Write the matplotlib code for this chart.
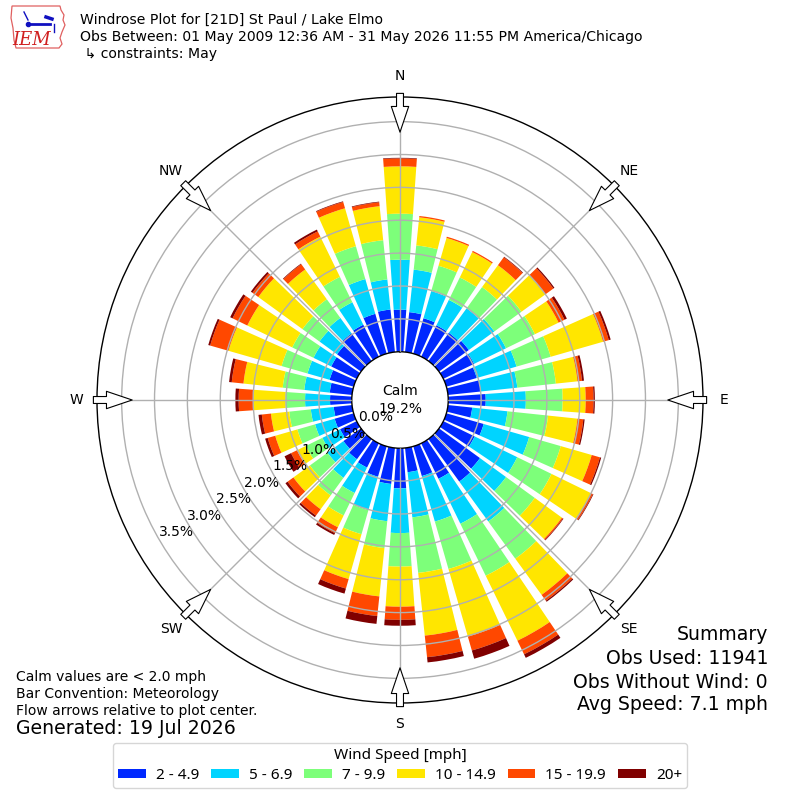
import numpy as np
import matplotlib
matplotlib.use("Agg")
import matplotlib.pyplot as plt
from matplotlib.patches import Patch, Polygon

# ---------------- data (cumulative % by direction) ----------------
directions = list(range(0, 360, 10))
speed_labels = ["2 - 4.9", "5 - 6.9", "7 - 9.9", "10 - 14.9", "15 - 19.9", "20+"]
colors = ["#0028ff", "#00d4ff", "#7dff7a", "#ffe600", "#ff4800", "#800000"]

cum_2_4 = [0.64, 0.61, 0.56, 0.53, 0.53, 0.56, 0.52, 0.48, 0.50, 0.57, 0.37, 0.59,
           0.53, 0.77, 0.80, 0.60, 0.47, 0.37, 0.61, 0.55, 0.48, 0.41, 0.38, 0.33,
           0.28, 0.30, 0.28, 0.33, 0.34, 0.38, 0.43, 0.45, 0.52, 0.54, 0.63, 0.65]
cum_5_6 = [1.40, 1.26, 0.99, 0.96, 0.99, 1.04, 1.06, 1.11, 1.06, 1.18, 0.91, 1.31,
           1.25, 1.26, 1.55, 1.36, 1.19, 1.06, 1.29, 1.12, 1.01, 0.84, 0.73, 0.63,
           0.58, 0.61, 0.63, 0.71, 0.73, 0.73, 0.73, 0.78, 0.81, 0.92, 1.18, 1.11]
cum_7_9 = [2.10, 1.63, 1.39, 1.34, 1.39, 1.55, 1.55, 1.65, 1.65, 1.74, 1.53, 1.81,
           1.83, 1.80, 2.25, 2.24, 1.94, 1.91, 1.80, 1.53, 1.39, 1.22, 1.06, 0.96,
           0.86, 0.89, 0.96, 1.01, 1.06, 1.14, 1.09, 1.10, 1.16, 1.35, 1.70, 1.71]
cum_10_14 = [2.82, 2.06, 1.83, 1.77, 1.80, 2.00, 1.95, 2.48, 1.98, 2.09, 1.98, 2.30,
             2.50, 2.31, 2.93, 3.34, 3.01, 2.87, 2.41, 2.27, 2.10, 1.42, 1.32, 1.27,
             1.01, 1.24, 1.24, 1.50, 1.66, 1.98, 1.85, 1.93, 1.72, 2.03, 2.30, 2.23]
cum_15_19 = [2.94, 2.08, 1.85, 1.79, 1.95, 2.15, 2.05, 2.57, 2.05, 2.21, 2.07, 2.43,
             2.53, 2.33, 3.04, 3.57, 3.23, 3.20, 2.61, 2.57, 2.25, 1.52, 1.44, 1.38,
             1.11, 1.36, 1.38, 1.72, 1.84, 2.27, 2.10, 2.04, 1.82, 2.12, 2.40, 2.29]
cum_20p = [2.95, 2.08, 1.85, 1.79, 1.96, 2.17, 2.09, 2.60, 2.08, 2.23, 2.09, 2.45,
           2.54, 2.34, 3.06, 3.63, 3.36, 3.28, 2.70, 2.69, 2.33, 1.55, 1.47, 1.42,
           1.22, 1.40, 1.43, 1.77, 1.88, 2.30, 2.14, 2.07, 1.83, 2.15, 2.41, 2.30]

ring_values = [0.0, 0.5, 1.0, 1.5, 2.0, 2.5, 3.0, 3.5]
compass_labels = ["N", "NE", "E", "SE", "S", "SW", "W", "NW"]
compass_angles = [0, 45, 90, 135, 180, 225, 270, 315]
calm_pct = 19.2

# ---------------- figure ----------------
fig = plt.figure(figsize=(8, 8), dpi=100)
ax = fig.add_axes([0.12125, 0.12125, 0.7575, 0.7575], projection="polar")
ax.set_theta_zero_location("N")
ax.set_theta_direction(-1)
rmax = 3.875
ax.set_rorigin(-0.734)
ax.set_ylim(0, rmax)

cum = np.array([cum_2_4, cum_5_6, cum_7_9, cum_10_14, cum_15_19, cum_20p])
theta = np.deg2rad(directions)
width = np.deg2rad(8.0)
bottom = np.zeros(len(directions))
for i in range(len(speed_labels)):
    h = cum[i] - bottom
    ax.bar(theta, h, width=width, bottom=bottom, color=colors[i],
           edgecolor="none", linewidth=0, zorder=2)
    bottom = cum[i]

ax.set_axisbelow(False)
ax.set_yticks(ring_values[1:])
ax.set_yticklabels([])
ax.set_xticks(np.deg2rad(compass_angles))
ax.set_xticklabels([])
ax.grid(True, color="#b0b0b0", linewidth=1.0, zorder=3)
for sp in ax.spines.values():
    sp.set_linewidth(1.0)
    sp.set_color("black")

# radial labels
for v in ring_values:
    ax.text(np.deg2rad(240), v, f"{v:.1f}%", ha="left", va="bottom",
            fontsize=10, zorder=5)

# compass labels and flow arrows
for lab, ang in zip(compass_labels, compass_angles):
    t = np.deg2rad(ang)
    ax.text(t, 4.19, lab, ha="center", va="center", fontsize=10, clip_on=False)
    ax.annotate("", xy=(t, 3.34), xytext=(t, 3.93),
                arrowprops=dict(arrowstyle="simple,head_length=1.85,head_width=1.25,tail_width=0.5",
                                fc="white", ec="black", lw=0.8, shrinkA=0, shrinkB=0,
                                mutation_scale=10),
                annotation_clip=False, zorder=6)

ax.text(0.5, 0.5, f"Calm\n{calm_pct:.1f}%", transform=ax.transAxes,
        ha="center", va="center", fontsize=10, linespacing=1.3, zorder=6)

# ---------------- header ----------------
fig.text(80 / 800, 1 - 20 / 800, "Windrose Plot for [21D] St Paul / Lake Elmo",
         fontsize=10.1, va="center", ha="left")
fig.text(80 / 800, 1 - 37 / 800,
         "Obs Between: 01 May 2009 12:36 AM - 31 May 2026 11:55 PM America/Chicago",
         fontsize=10.1, va="center", ha="left")
fig.text(80 / 800, 1 - 54 / 800, " \u21b3 constraints: May", fontsize=10.1,
         va="center", ha="left")

# logo (simplified)
lax = fig.add_axes([10 / 800, 1 - 50 / 800, 56 / 800, 46 / 800])
lax.set_xlim(0, 56)
lax.set_ylim(0, 46)
lax.axis("off")
outline = [(2, 44), (50, 44), (51, 40), (54, 35), (53, 30), (55, 25), (52, 18),
           (50, 12), (52, 6), (49, 2), (6, 2), (4, 10), (3, 22), (1, 32), (2, 44)]
lax.add_patch(Polygon(outline, closed=True, fill=False, ec="#e06060", lw=0.9))
lax.plot([18, 40], [26, 26], color="#1010c0", lw=2)
lax.plot([18], [26], "o", color="#1010c0", ms=3)
lax.plot([14, 18], [38, 30], color="#1010c0", lw=1)
lax.plot([36, 42], [33, 31], color="#1010c0", lw=2.5)
lax.plot([44, 44], [26, 18], color="#1010c0", lw=1)
lax.text(22, 10, "IEM", color="#d02020", fontsize=13, fontstyle="italic",
         family="DejaVu Serif", ha="center", va="center")

# ---------------- footer texts ----------------
fig.text(16 / 800, 1 - 677 / 800, "Calm values are < 2.0 mph", fontsize=10, va="center")
fig.text(16 / 800, 1 - 694 / 800, "Bar Convention: Meteorology", fontsize=10, va="center")
fig.text(16 / 800, 1 - 711 / 800, "Flow arrows relative to plot center.", fontsize=10, va="center")
fig.text(16 / 800, 1 - 729 / 800, "Generated: 19 Jul 2026", fontsize=13.6, va="center")

fig.text(768 / 800, 1 - 635 / 800, "Summary", fontsize=13.6, ha="right", va="center")
fig.text(768 / 800, 1 - 659 / 800, "Obs Used: 11941", fontsize=13.6, ha="right", va="center")
fig.text(768 / 800, 1 - 682 / 800, "Obs Without Wind: 0", fontsize=13.6, ha="right", va="center")
fig.text(768 / 800, 1 - 705 / 800, "Avg Speed: 7.1 mph", fontsize=13.6, ha="right", va="center")

handles = [Patch(facecolor=c, edgecolor="none", label=l) for c, l in zip(colors, speed_labels)]
leg = fig.legend(handles=handles, loc="lower center", bbox_to_anchor=(0.5, 11.7 / 800),
                 ncol=6, title="Wind Speed [mph]", frameon=True, fancybox=True,
                 prop={"family": "Noto Sans", "size": 11},
                 title_fontproperties={"family": "Noto Sans", "size": 11},
                 handlelength=1.81, handleheight=0.57, handletextpad=0.65,
                 columnspacing=0.8, borderpad=0.35, borderaxespad=0.0,
                 labelspacing=0.3)
leg.get_frame().set_edgecolor("#cccccc")
leg.get_frame().set_linewidth(1.0)

fig.savefig("out.png", dpi=100)
